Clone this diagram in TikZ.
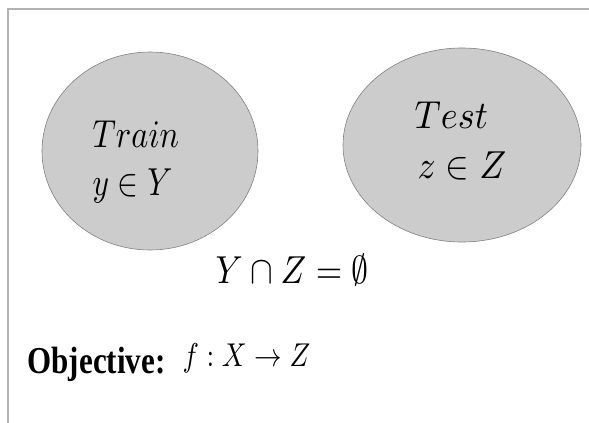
\documentclass[tikz,border=0pt]{standalone}
\usepackage{fontspec}
\newfontfamily\objfont{Liberation Serif}
\usetikzlibrary{shapes.geometric}

\begin{document}
\begin{tikzpicture}[x=1pt,y=-1pt,
  set/.style={ellipse, draw=gray, fill=gray!40, line width=0.6pt, inner sep=0pt},
  mathtxt/.style={anchor=base west, inner sep=0pt, xscale=3.3, yscale=3.9}]

\useasboundingbox (0,0) rectangle (589,423);

% frame
\draw[gray!60, line width=1.5pt] (8,423) -- (8,9) -- (589,9);

% the two sets
\node[set, minimum width=216pt, minimum height=198pt] (train) at (150,151) {};
\node[set, minimum width=238pt, minimum height=194pt] (test) at (462,145) {};

\node[mathtxt, xscale=0.98] (trainname) at (92,147) {$Train$};
\node[mathtxt, xscale=0.95] (trainelem) at (92,195) {$y\in Y$};
\node[mathtxt, xscale=1.1] (testname) at (414,128) {$Test$};
\node[mathtxt, xscale=1.08] (testelem) at (417,178) {$z\in Z$};

\node[mathtxt, xscale=1.03] (empty) at (215,283) {$Y\cap Z=\emptyset$};

\node[anchor=base west, inner sep=0pt, xscale=3.1, yscale=3.8, font=\objfont\bfseries] (obj) at (27,373) {Objective:};
\node[anchor=base west, inner sep=0pt, xscale=2.75, yscale=3.3] (map) at (182,366) {$f:X\to Z$};

\end{tikzpicture}
\end{document}
